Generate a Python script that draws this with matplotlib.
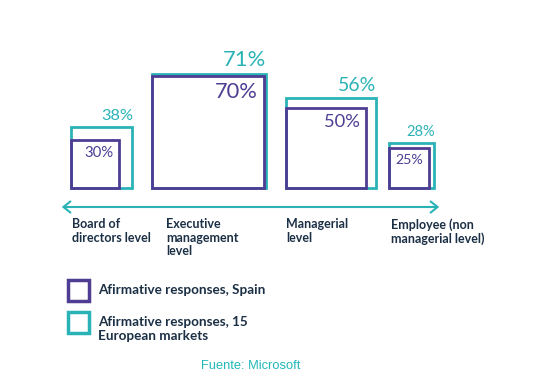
import matplotlib.pyplot as plt
from matplotlib.patches import Rectangle, FancyArrowPatch

## data ##
levels = ['Board of\ndirectors level', 'Executive\nmanagement\nlevel',
          'Managerial\nlevel', 'Employee (non\nmanagerial level)']
spain = [30, 70, 50, 25]
europe = [38, 71, 56, 28]
series_names = ['Afirmative responses, Spain', 'Afirmative responses, 15\nEuropean markets']
source = 'Fuente: Microsoft'

## style ##
teal = '#2ab3b6'
purple = '#4e3d92'
navy = '#1b2f45'
box_left = [71, 152, 286, 389]     # px
label_left = [72, 166, 286, 391]   # px
base_y = 188
px_per_pct = 1.6

def pct_size(v):
    return 7 + 0.125 * v

fig = plt.figure(figsize=(5.4, 3.82), dpi=100)
ax = fig.add_axes([0, 0, 1, 1])
ax.set_xlim(0, 540)
ax.set_ylim(382, 0)
ax.axis('off')

for i in range(len(levels)):
    x0 = box_left[i]
    se = europe[i] * px_per_pct
    ss = spain[i] * px_per_pct
    # europe box (behind)
    ax.add_patch(Rectangle((x0, base_y - se), se, se, fill=False, ec=teal, lw=2, zorder=2))
    ax.text(x0 + se + 1, base_y - se - 4, f'{europe[i]}%', color=teal, ha='right', va='bottom',
            fontsize=pct_size(europe[i]), family='Lato')
    # spain box
    ax.add_patch(Rectangle((x0, base_y - ss), ss, ss, fill=False, ec=purple, lw=2, zorder=3))
    ax.text(x0 + ss - 6, base_y - ss + 6, f'{spain[i]}%', color=purple, ha='right', va='top',
            fontsize=pct_size(spain[i]), family='Lato')
    # category label
    ax.text(label_left[i], 218, levels[i], color=navy, ha='left', va='top', fontsize=9,
            family='Lato', fontweight='bold', linespacing=1.15)

# double arrow axis
arr = FancyArrowPatch((59, 207), (442, 207), arrowstyle='<->,head_length=5,head_width=4',
                      color=teal, lw=1.5, mutation_scale=1)
ax.add_patch(arr)

# legend
for j, (name, col) in enumerate(zip(series_names, [purple, teal])):
    y0 = 280 + j * 32
    ax.add_patch(Rectangle((68, y0), 21, 21, fill=False, ec=col, lw=2.5))
    ax.text(98, y0 + 4, name, color=navy, ha='left', va='top', fontsize=9.7,
            family='Lato', fontweight='bold', linespacing=1.2)

ax.text(201, 366, source, color='#22b8b8', ha='left', va='center', fontsize=9.3,
        family='Liberation Sans')

fig.savefig('out.png', dpi=100)
